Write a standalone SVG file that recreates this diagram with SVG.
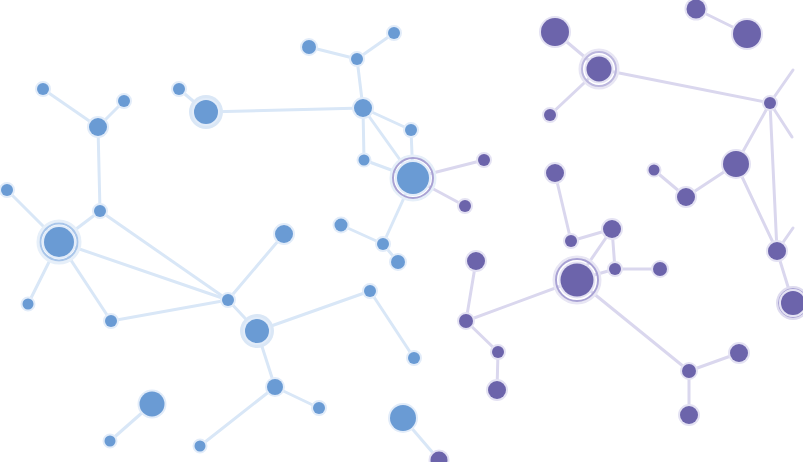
<svg xmlns="http://www.w3.org/2000/svg" width="803" height="462" viewBox="0 0 803 462">
<style>
.eb{stroke:#d9e7f7;stroke-width:3;stroke-linecap:round;fill:none}
.ep{stroke:#dad7ee;stroke-width:3;stroke-linecap:round;fill:none}
.b{fill:#6a9bd4;stroke:#e2ecf9;stroke-width:4;paint-order:stroke}
.p{fill:#6c64ab;stroke:#e4e2f3;stroke-width:4;paint-order:stroke}
.hb{fill:#dae7f6}
.hp{fill:#dedbef}
.rb{fill:none;stroke:#a9c6ea;stroke-width:2}
.rp{fill:none;stroke:#a9a2d4;stroke-width:2}
.gb{fill:none;stroke:#e6eff9;stroke-width:3}
.gp{fill:none;stroke:#e8e6f4;stroke-width:3}
</style>
<rect width="803" height="462" fill="#ffffff"/>
<g id="connectors">
<line class="eb" x1="43" y1="89" x2="98" y2="127"/>
<line class="eb" x1="124" y1="101" x2="98" y2="127"/>
<line class="eb" x1="98" y1="127" x2="100" y2="211"/>
<line class="eb" x1="100" y1="211" x2="59" y2="242"/>
<line class="eb" x1="100" y1="211" x2="228" y2="300"/>
<line class="eb" x1="7" y1="190" x2="59" y2="242"/>
<line class="eb" x1="59" y1="242" x2="28" y2="304"/>
<line class="eb" x1="59" y1="242" x2="111" y2="321"/>
<line class="eb" x1="59" y1="242" x2="228" y2="300"/>
<line class="eb" x1="111" y1="321" x2="228" y2="300"/>
<line class="eb" x1="228" y1="300" x2="284" y2="234"/>
<line class="eb" x1="228" y1="300" x2="257" y2="331"/>
<line class="eb" x1="257" y1="331" x2="275" y2="387"/>
<line class="eb" x1="257" y1="331" x2="370" y2="291"/>
<line class="eb" x1="370" y1="291" x2="414" y2="358"/>
<line class="eb" x1="275" y1="387" x2="319" y2="408"/>
<line class="eb" x1="275" y1="387" x2="200" y2="446"/>
<line class="eb" x1="152" y1="404" x2="110" y2="441"/>
<line class="eb" x1="403" y1="418" x2="439" y2="460"/>
<line class="eb" x1="179" y1="89" x2="206" y2="112"/>
<line class="eb" x1="206" y1="112" x2="363" y2="108"/>
<line class="eb" x1="309" y1="47" x2="357" y2="59"/>
<line class="eb" x1="357" y1="59" x2="394" y2="33"/>
<line class="eb" x1="357" y1="59" x2="363" y2="108"/>
<line class="eb" x1="363" y1="108" x2="411" y2="130"/>
<line class="eb" x1="363" y1="108" x2="364" y2="160"/>
<line class="eb" x1="363" y1="108" x2="413" y2="178"/>
<line class="eb" x1="411" y1="130" x2="413" y2="178"/>
<line class="eb" x1="364" y1="160" x2="413" y2="178"/>
<line class="eb" x1="413" y1="178" x2="383" y2="244"/>
<line class="eb" x1="341" y1="225" x2="383" y2="244"/>
<line class="eb" x1="383" y1="244" x2="398" y2="262"/>
<line class="ep" x1="413" y1="178" x2="484" y2="160"/>
<line class="ep" x1="413" y1="178" x2="465" y2="206"/>
<line class="ep" x1="555" y1="32" x2="599" y2="69"/>
<line class="ep" x1="696" y1="9" x2="747" y2="34"/>
<line class="ep" x1="599" y1="69" x2="550" y2="115"/>
<line class="ep" x1="599" y1="69" x2="770" y2="103"/>
<line class="ep" x1="770" y1="103" x2="793" y2="70"/>
<line class="ep" x1="770" y1="103" x2="792" y2="137"/>
<line class="ep" x1="770" y1="103" x2="736" y2="164"/>
<line class="ep" x1="770" y1="103" x2="777" y2="251"/>
<line class="ep" x1="736" y1="164" x2="777" y2="251"/>
<line class="ep" x1="736" y1="164" x2="686" y2="197"/>
<line class="ep" x1="686" y1="197" x2="654" y2="170"/>
<line class="ep" x1="777" y1="251" x2="793" y2="228"/>
<line class="ep" x1="777" y1="251" x2="793" y2="303"/>
<line class="ep" x1="555" y1="173" x2="571" y2="241"/>
<line class="ep" x1="571" y1="241" x2="612" y2="229"/>
<line class="ep" x1="612" y1="229" x2="577" y2="280"/>
<line class="ep" x1="612" y1="229" x2="615" y2="269"/>
<line class="ep" x1="577" y1="280" x2="615" y2="269"/>
<line class="ep" x1="615" y1="269" x2="660" y2="269"/>
<line class="ep" x1="577" y1="280" x2="466" y2="321"/>
<line class="ep" x1="577" y1="280" x2="689" y2="371"/>
<line class="ep" x1="689" y1="371" x2="739" y2="353"/>
<line class="ep" x1="689" y1="371" x2="689" y2="415"/>
<line class="ep" x1="476" y1="261" x2="466" y2="321"/>
<line class="ep" x1="466" y1="321" x2="498" y2="352"/>
<line class="ep" x1="498" y1="352" x2="497" y2="390"/>
</g>
<g id="n-a1"><circle class="b" cx="43" cy="89" r="6"/></g>
<g id="n-a2"><circle class="b" cx="124" cy="101" r="6"/></g>
<g id="n-a3"><circle class="b" cx="98" cy="127" r="9"/></g>
<g id="n-a4"><circle class="b" cx="100" cy="211" r="6"/></g>
<g id="n-a5"><circle class="b" cx="7" cy="190" r="6"/></g>
<g id="n-hub1"><circle class="gb" cx="59" cy="242" r="21"/><circle class="rb" cx="59" cy="242" r="18.5"/><circle class="b" cx="59" cy="242" r="15"/></g>
<g id="n-a6"><circle class="b" cx="28" cy="304" r="5.5"/></g>
<g id="n-a7"><circle class="b" cx="111" cy="321" r="6"/></g>
<g id="n-a8"><circle class="b" cx="228" cy="300" r="6"/></g>
<g id="n-a9"><circle class="b" cx="284" cy="234" r="9"/></g>
<g id="n-hub2"><circle class="hb" cx="257" cy="331" r="17"/><circle class="b" cx="257" cy="331" r="12"/></g>
<g id="n-a10"><circle class="b" cx="275" cy="387" r="8"/></g>
<g id="n-a11"><circle class="b" cx="319" cy="408" r="6"/></g>
<g id="n-a12"><circle class="b" cx="200" cy="446" r="5.5"/></g>
<g id="n-a13"><circle class="b" cx="152" cy="404" r="12.5"/></g>
<g id="n-a14"><circle class="b" cx="110" cy="441" r="5.5"/></g>
<g id="n-a15"><circle class="b" cx="370" cy="291" r="6"/></g>
<g id="n-a16"><circle class="b" cx="414" cy="358" r="6"/></g>
<g id="n-a17"><circle class="b" cx="403" cy="418" r="13"/></g>
<g id="n-b1"><circle class="b" cx="179" cy="89" r="6"/></g>
<g id="n-b2"><circle class="hb" cx="206" cy="112" r="17"/><circle class="b" cx="206" cy="112" r="12"/></g>
<g id="n-b3"><circle class="b" cx="309" cy="47" r="7"/></g>
<g id="n-b4"><circle class="b" cx="357" cy="59" r="6"/></g>
<g id="n-b5"><circle class="b" cx="394" cy="33" r="6"/></g>
<g id="n-b6"><circle class="b" cx="363" cy="108" r="9"/></g>
<g id="n-b7"><circle class="b" cx="411" cy="130" r="6"/></g>
<g id="n-b8"><circle class="b" cx="364" cy="160" r="5.5"/></g>
<g id="n-hub3"><circle class="gb" cx="413" cy="178" r="22"/><circle class="rp" cx="413" cy="178" r="20"/><circle class="b" cx="413" cy="178" r="16"/></g>
<g id="n-b9"><circle class="p" cx="484" cy="160" r="6"/></g>
<g id="n-b10"><circle class="p" cx="465" cy="206" r="6"/></g>
<g id="n-b11"><circle class="b" cx="341" cy="225" r="6.5"/></g>
<g id="n-b12"><circle class="b" cx="383" cy="244" r="6"/></g>
<g id="n-b13"><circle class="b" cx="398" cy="262" r="7"/></g>
<g id="n-p1"><circle class="p" cx="555" cy="32" r="14"/></g>
<g id="n-p2"><circle class="p" cx="696" cy="9" r="9.5"/></g>
<g id="n-p3"><circle class="p" cx="747" cy="34" r="14"/></g>
<g id="n-hub4"><circle class="gp" cx="599" cy="69" r="19"/><circle class="rp" cx="599" cy="69" r="17" style="stroke:#bdb8de"/><circle class="p" cx="599" cy="69" r="12.5"/></g>
<g id="n-p4"><circle class="p" cx="550" cy="115" r="6"/></g>
<g id="n-p5"><circle class="p" cx="770" cy="103" r="6"/></g>
<g id="n-p6"><circle class="p" cx="555" cy="173" r="9"/></g>
<g id="n-p7"><circle class="p" cx="654" cy="170" r="5.5"/></g>
<g id="n-p8"><circle class="p" cx="686" cy="197" r="9"/></g>
<g id="n-p9"><circle class="p" cx="736" cy="164" r="13"/></g>
<g id="n-p10"><circle class="p" cx="777" cy="251" r="9"/></g>
<g id="n-p11"><circle class="hp" cx="793" cy="303" r="17"/><circle class="rp" cx="793" cy="303" r="14.5" style="stroke-width:1"/><circle class="p" cx="793" cy="303" r="12"/></g>
<g id="n-p12"><circle class="p" cx="612" cy="229" r="9"/></g>
<g id="n-p13"><circle class="p" cx="571" cy="241" r="6"/></g>
<g id="n-p14"><circle class="p" cx="615" cy="269" r="6"/></g>
<g id="n-p15"><circle class="p" cx="660" cy="269" r="7"/></g>
<g id="n-hub5"><circle class="gp" cx="577" cy="280" r="23"/><circle class="rp" cx="577" cy="280" r="21"/><circle class="p" cx="577" cy="280" r="16.5"/></g>
<g id="n-p16"><circle class="p" cx="476" cy="261" r="9"/></g>
<g id="n-p17"><circle class="p" cx="466" cy="321" r="7"/></g>
<g id="n-p18"><circle class="p" cx="498" cy="352" r="6"/></g>
<g id="n-p19"><circle class="p" cx="497" cy="390" r="9"/></g>
<g id="n-p20"><circle class="p" cx="689" cy="371" r="7"/></g>
<g id="n-p21"><circle class="p" cx="739" cy="353" r="9"/></g>
<g id="n-p22"><circle class="p" cx="689" cy="415" r="9"/></g>
<g id="n-p23"><circle class="p" cx="439" cy="460" r="8.5"/></g>
</svg>
